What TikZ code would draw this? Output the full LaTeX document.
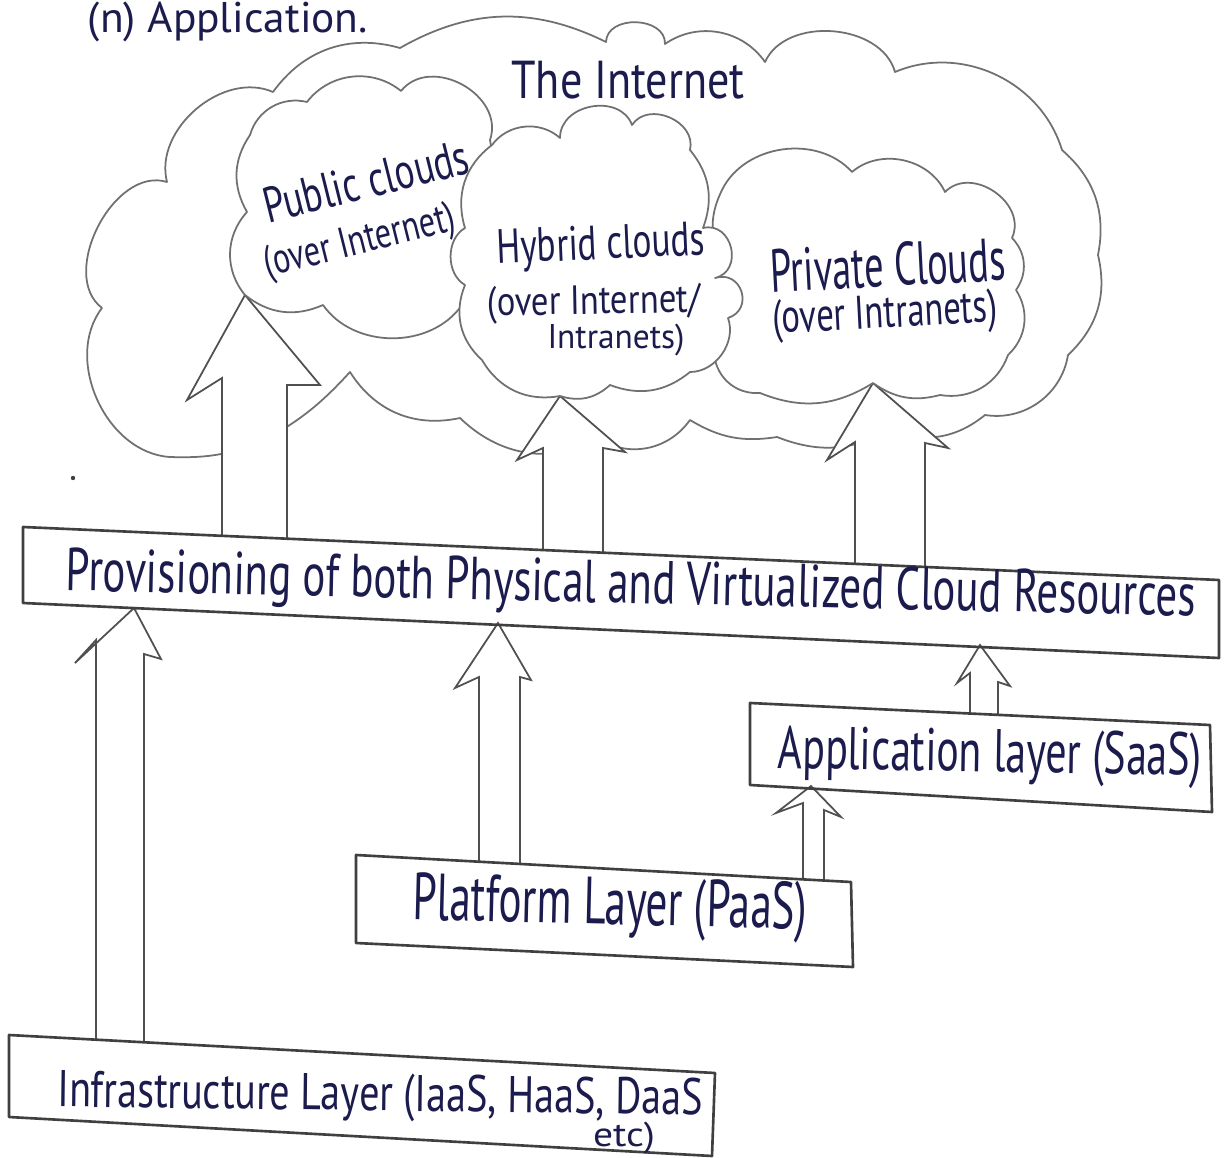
\documentclass[tikz,border=0pt]{standalone}
\usepackage{fontspec}
\usepackage{graphicx}
\newfontfamily\handfont{PT Sans}
\definecolor{ink}{HTML}{1B1B4D}
\definecolor{cloudgray}{HTML}{707070}
\definecolor{arrowgray}{HTML}{505050}
\definecolor{boxgray}{HTML}{404040}
\newlength\pxu
\setlength\pxu{0.02cm}
% text squeezed into a measured width x total height (in px units)
\newcommand\handtext[3]{\resizebox*{#1\pxu}{#2\pxu}{\handfont #3}}

\tikzset{
  cloudline/.style={draw=cloudgray, line width=1.0pt, fill=white, line join=round, line cap=round},
  arrowline/.style={draw=arrowgray, line width=1.0pt, fill=white, line join=miter},
  boxline/.style={draw=boxgray, line width=1.5pt, line join=round},
  hand/.style={inner sep=0pt, outer sep=0pt, text=ink},
}

\begin{document}
\begin{tikzpicture}[x=0.02cm, y=-0.02cm]
  \fill[white] (0,0) rectangle (1231,1158);
  \useasboundingbox (0,0) rectangle (1231,1158);

  % outer cloud: the Internet
  \path[cloudline] (170,457)
    to[bend left=62] (102,308)
    to[bend left=80] (167,182)
    to[bend left=64] (273,92)
    to[bend left=35] (400,48)
    to[bend left=28] (606,42)
    to[bend left=90,looseness=1.2] (665,44)
    to[bend left=45] (765,62)
    to[bend left=70] (895,72)
    to[bend left=48] (1062,150)
    to[bend left=30] (1098,255)
    to[bend left=30] (1068,355)
    to[bend left=45] (985,415)
    to[bend left=30] (890,430)
    to[bend left=25] (777,437)
    to[bend left=20] (690,420)
    to[bend left=42] (600,440)
    to[bend left=35] (460,418)
    to[bend left=35] (350,372)
    to[bend left=10] (255,445)
    to[bend left=10] (170,457) -- cycle;

  % hollow arrows from the provisioning layer up into the clouds
  \path[arrowline] (222,535.8) -- (222,378) -- (187,400) -- (245,295) -- (320,385) -- (287,385) -- (287,538.7);
  \path[arrowline] (543,550.1) -- (543,448) -- (517,460) -- (560,396) -- (625,452) -- (603,448) -- (603,552.8);
  \path[arrowline] (855,564.1) -- (855,442) -- (827,460) -- (873,383) -- (948,448) -- (925,443) -- (925,567.2);

  % private, public and hybrid clouds
  \path[cloudline] (873,383)
    to[bend left=27] (760,393)
    to[bend left=40] (715,360)
    to[bend left=15] (716,250)
    to[bend left=20] (722,190)
    to[bend left=56] (852,172)
    to[bend left=53] (945,192)
    to[bend left=80,looseness=1.2] (1012,238)
    to[bend left=40] (1016,290)
    to[bend left=40] (1008,355)
    to[bend left=40] (940,395)
    to[bend left=25] (873,383) -- cycle;

  \path[cloudline] (245,295)
    to[bend left=41] (247,212)
    to[bend left=32] (250,135)
    to[bend left=44] (307,102)
    to[bend left=46] (401,91)
    to[bend left=80,looseness=1.2] (490,140)
    to[bend left=20] (462,305)
    to[bend left=55] (323,305)
    to[bend left=31] (245,295) -- cycle;

  \path[cloudline] (560,396)
    to[bend left=35] (482,360)
    to[bend left=35] (465,285)
    to[bend left=60] (465,228)
    to[bend left=35] (492,145)
    to[bend left=48] (560,138)
    to[bend left=80,looseness=1.2] (632,125)
    to[bend left=80,looseness=1.2] (690,150)
    to[bend left=30] (703,228)
    to[bend left=90,looseness=1.5] (715,278)
    to[bend left=90,looseness=1.7] (728,318)
    to[bend left=55] (690,372)
    to[bend left=30] (610,385)
    to[bend left=30] (560,396) -- cycle;

  % hollow arrows between the layers
  \path[arrowline] (96,1039.7) -- (96,640) -- (75,663) -- (134,608) -- (161,659) -- (144,654) -- (144,1042.3);
  \path[arrowline] (479,861.7) -- (479,677) -- (455,688) -- (498,623) -- (531,680) -- (520,677) -- (520,863.9);
  \path[arrowline] (970,713.5) -- (970,673) -- (957,683) -- (980,645) -- (1010,686) -- (998,682) -- (998,714.9);
  \path[arrowline] (803,879.4) -- (803,803) -- (776,813) -- (811,786) -- (841,817) -- (824,810) -- (824,880.5);

  % layer boxes
  \draw[boxline] (23,527) -- (1219,580) -- (1219,658) -- (23,603) -- cycle;
  \draw[boxline] (750,703) -- (1210,725) -- (1212,812) -- (750,785) -- cycle;
  \draw[boxline] (356,855) -- (851,882) -- (853,967) -- (356,943) -- cycle;
  \draw[boxline] (9,1035) -- (715,1073) -- (712,1156) -- (9,1117) -- cycle;

  \fill[boxgray] (73,478) circle (2.2);

  % labels
  \node[hand] (title) at (228,22) {\handtext{280}{40}{(n) Application.}};
  \node[hand] (internet) at (628,80) {\handtext{233}{38}{The Internet}};
  \node[hand, rotate=14] (pub1) at (366,181) {\handtext{210}{36}{Public clouds}};
  \node[hand, rotate=14] (pub2) at (360,243) {\handtext{196}{40}{(over Internet)}};
  \node[hand, rotate=2.5] (hyb1) at (601,247) {\handtext{208}{44}{Hybrid clouds}};
  \node[hand, rotate=1] (hyb2) at (594,304) {\handtext{213}{38}{(over Internet/}};
  \node[hand] (hyb3) at (616,340) {\handtext{137}{32}{Intranets)}};
  \node[hand, rotate=3] (pri1) at (888,265) {\handtext{235}{44}{Private Clouds}};
  \node[hand, rotate=3] (pri2) at (885,316) {\handtext{225}{44}{(over Intranets)}};
  \node[hand, rotate=-1.3] (prov) at (631,588) {\handtext{1130}{56}{Provisioning of both Physical and Virtualized Cloud Resources}};
  \node[hand, rotate=-1] (saas) at (990,757) {\handtext{424}{56}{Application layer (SaaS)}};
  \node[hand, rotate=-1.4] (paas) at (610,908) {\handtext{394}{62}{Platform Layer (PaaS)}};
  \node[hand, rotate=-0.7] (iaas) at (380,1098) {\handtext{645}{48}{Infrastructure Layer (IaaS, HaaS, DaaS}};
  \node[hand] (iaas2) at (624,1138) {\handtext{62}{32}{etc)}};
\end{tikzpicture}
\end{document}
